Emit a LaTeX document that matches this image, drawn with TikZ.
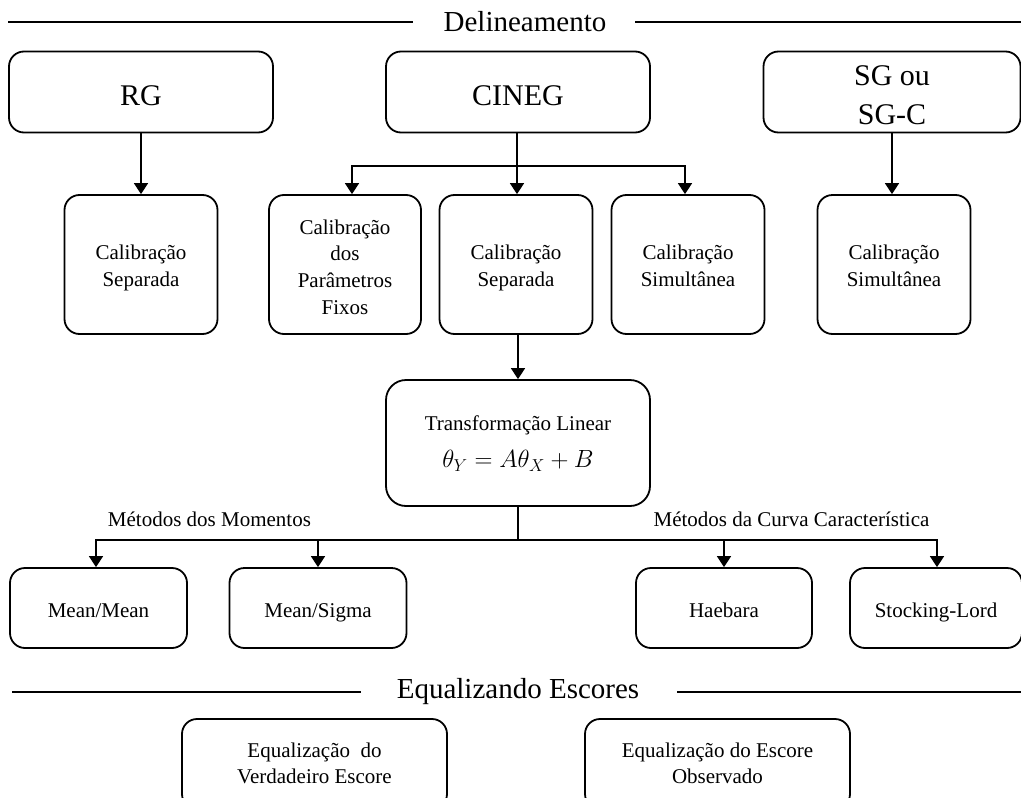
\documentclass[tikz,border=0pt]{standalone}
\usepackage{fontspec}
\setmainfont{Liberation Serif}
\usetikzlibrary{arrows.meta}

% struts that keep box labels optically centred
\newcommand\topstrut{\rule{0pt}{1.15em}}
\newcommand\botstrut{\rule[-0.25em]{0pt}{0.25em}}
% first-line strut for stacked labels
\newcommand\lift[1]{\rule{0pt}{#1em}}

\begin{document}
\begin{tikzpicture}[x=1pt,y=-1pt,
  rbox/.style={draw, line width=1.8pt, rounded corners=15pt, align=center,
    inner sep=0pt, font=\fontsize{21}{26.8}\selectfont,
    execute at begin node=\topstrut, execute at end node=\botstrut},
  bigbox/.style={rbox, font=\fontsize{30}{39}\selectfont},
  head/.style={font=\fontsize{29}{34}\selectfont, inner sep=0pt},
  lab/.style={font=\fontsize{21}{26}\selectfont, inner sep=0pt},
  conn/.style={line width=1.8pt},
  arr/.style={conn, -{Triangle[width=14pt,length=11pt]}}]
\useasboundingbox (0,0) rectangle (1021,798);
\clip (0,0) rectangle (1021,798);

% --- Delineamento section header
\node[head] (delin) at (525,22) {Delineamento};
\coordinate (dl1) at (8,22);
\coordinate (dl2) at (413,22);
\coordinate (dr1) at (635,22);
\coordinate (dr2) at (1021,22);
\draw[conn] (dl1) -- (dl2);
\draw[conn] (dr1) -- (dr2);

% --- designs
\node[bigbox, minimum width=264, minimum height=81] (rg) at (141,92) {RG};
\node[bigbox, minimum width=264, minimum height=81] (cineg) at (518,92) {CINEG};
\node[bigbox, minimum width=257, minimum height=81] (sg) at (892,92) {\lift{1.14}SG ou\\SG-C};

% --- calibration methods
\node[rbox, minimum width=153, minimum height=139] (calsepA) at (141,264.5) {\lift{1.08}Calibração\\Separada};
\node[rbox, minimum width=152, minimum height=139] (calfix) at (345,264.5) {\lift{1.18}Calibração\\dos\\Parâmetros\\Fixos};
\node[rbox, minimum width=153, minimum height=139] (calsepB) at (516,264.5) {\lift{1.08}Calibração\\Separada};
\node[rbox, minimum width=153, minimum height=139] (calsimA) at (688,264.5) {\lift{1.08}Calibração\\Simultânea};
\node[rbox, minimum width=153, minimum height=139] (calsimB) at (894,264.5) {\lift{1.08}Calibração\\Simultânea};

\draw[arr] (rg.south) -- (rg.south |- calsepA.north);
\draw[arr] (sg.south) -- (sg.south |- calsimB.north);

\coordinate (csplit) at (517,166);
\draw[conn] (cineg.south -| csplit) -- (csplit);
\draw[arr] (csplit) -| ([xshift=7pt]calfix.north);
\draw[arr] (csplit) -- (csplit |- calsepB.north);
\draw[arr] (csplit) -| ([xshift=-3pt]calsimA.north);

% --- linear transformation
\node[rbox, rounded corners=20pt, minimum width=264, minimum height=126] (transf) at (518,443)
  {\lift{0.83}Transformação Linear\\[11pt]{\fontsize{23}{28}\selectfont$\theta_Y = A\theta_X + B$}};
\draw[arr] (calsepB.south -| transf.north) -- (transf.north);

% --- scaling methods
\node[lab] (mom) at (209.5,519) {Métodos dos Momentos};
\node[lab] (ccurve) at (791.5,519) {Métodos da Curva Característica};

\node[rbox, minimum width=177, minimum height=80] (mm) at (98.5,608) {Mean/Mean};
\node[rbox, minimum width=177, minimum height=80] (ms) at (318,608) {Mean/Sigma};
\node[rbox, minimum width=176, minimum height=80] (hae) at (724,608) {Haebara};
\node[rbox, minimum width=172, minimum height=80] (sl) at (936,608) {Stocking-Lord};

\coordinate (msplit) at (518,540);
\draw[conn] (transf.south) -- (msplit);
\draw[arr] (msplit) -| ([xshift=-2.5pt]mm.north);
\draw[arr] (msplit) -| (ms.north);
\draw[arr] (msplit) -| (hae.north);
\draw[arr] (msplit) -| ([xshift=1pt]sl.north);

% --- Equalizando Escores section header
\node[head] (equal) at (518,692) {Equalizando Escores};
\coordinate (el1) at (12,692);
\coordinate (el2) at (361,692);
\coordinate (er1) at (677,692);
\coordinate (er2) at (1021,692);
\draw[conn] (el1) -- (el2);
\draw[conn] (er1) -- (er2);

\node[rbox, minimum width=265, minimum height=90] (eqtrue) at (314.5,764) {\lift{0.87}Equalização~~do\\Verdadeiro Escore};
\node[rbox, minimum width=265, minimum height=90] (eqobs) at (717.5,764) {\lift{0.87}Equalização do Escore\\Observado};
\end{tikzpicture}
\end{document}
